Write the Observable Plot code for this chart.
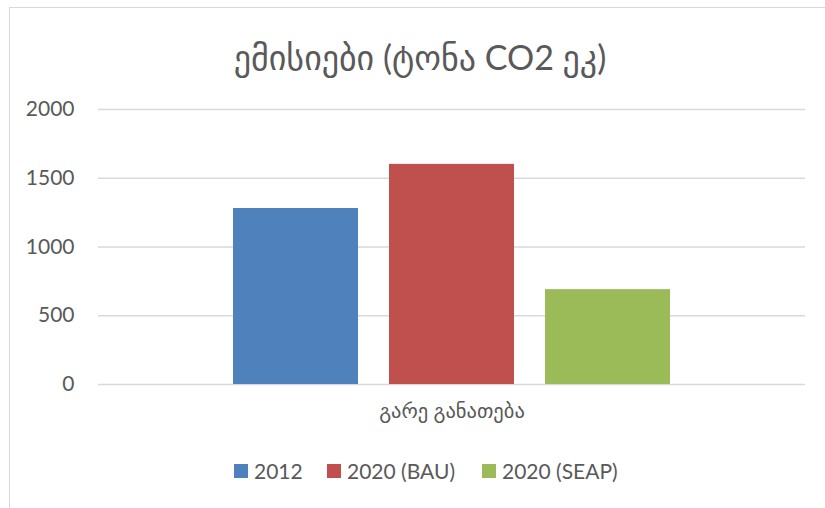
<!DOCTYPE html>
<html>
<head>
<meta charset="utf-8">
<script src="https://cdn.jsdelivr.net/npm/d3@7"></script>
<script src="https://cdn.jsdelivr.net/npm/@observablehq/plot@0.6"></script>
<style>
  html, body { margin: 0; padding: 0; background: #fff; }
  #wrap { position: relative; width: 825px; height: 508px; overflow: hidden; font-family: Lato, "DejaVu Sans", sans-serif; color: #595959; }
  #frame { position: absolute; left: 9px; top: 7px; width: 900px; height: 600px; border-left: 1.5px solid #d9d9d9; border-top: 1.5px solid #d9d9d9; }
  #title { position: absolute; left: 0; top: 37px; width: 840px; text-align: center; font-size: 34px; line-height: 40px; white-space: nowrap; }
  #chart { position: absolute; left: 0; top: 90px; }
  #legend { position: absolute; top: 456px; left: 0; width: 825px; height: 30px; }
  .item { position: absolute; top: 0; display: flex; align-items: center; font-size: 21px; line-height: 30px; white-space: nowrap; }
  .sw { width: 14px; height: 14px; margin-right: 6px; }
</style>
</head>
<body>
<div id="wrap">
  <div id="frame"></div>
  <div id="title"></div>
  <div id="chart"></div>
  <div id="legend"></div>
</div>
<script>
const title = "ემისიები (ტონა CO2 ეკ)";
const category = "გარე განათება";
const series = ["2012", "2020 (BAU)", "2020 (SEAP)"];
const values = [1280, 1601, 690];
const colors = ["#4F81BD", "#C0504D", "#9BBB59"];
const yTicks = [0, 500, 1000, 1500, 2000];
const legendX = [234, 327, 482];

document.getElementById("title").textContent = title;

const data = series.map((s, i) => ({series: s, value: values[i]}));

const chart = Plot.plot({
  width: 825,
  height: 350,
  marginTop: 19,
  marginBottom: 56,
  marginLeft: 98,
  marginRight: 20,
  style: {fontFamily: 'Lato, "DejaVu Sans", sans-serif', fontSize: "21px", color: "#595959", background: "transparent"},
  x: {domain: series, paddingInner: 0.2, paddingOuter: 0.865, axis: null},
  y: {domain: [0, 2000], ticks: yTicks, label: null, tickSize: 0, tickPadding: 24},
  color: {domain: series, range: colors},
  marks: [
    Plot.ruleY(yTicks, {stroke: "#d9d9d9", strokeWidth: 1.5}),
    Plot.barY(data, {x: "series", y: "value", fill: "series"}),
    Plot.axisY({ticks: yTicks, tickFormat: d => String(d), tickSize: 0, tickPadding: 24, fontSize: 21, fill: "#595959", label: null}),
    Plot.text([category], {text: d => d, frameAnchor: "bottom", dy: 33, fontSize: 20.5, fill: "#595959"})
  ]
});
document.getElementById("chart").appendChild(chart);

const legend = document.getElementById("legend");
series.forEach((s, i) => {
  const item = document.createElement("div");
  item.className = "item";
  item.style.left = legendX[i] + "px";
  const sw = document.createElement("div");
  sw.className = "sw";
  sw.style.background = colors[i];
  const t = document.createElement("span");
  t.textContent = s;
  item.appendChild(sw);
  item.appendChild(t);
  legend.appendChild(item);
});
</script>
</body>
</html>
